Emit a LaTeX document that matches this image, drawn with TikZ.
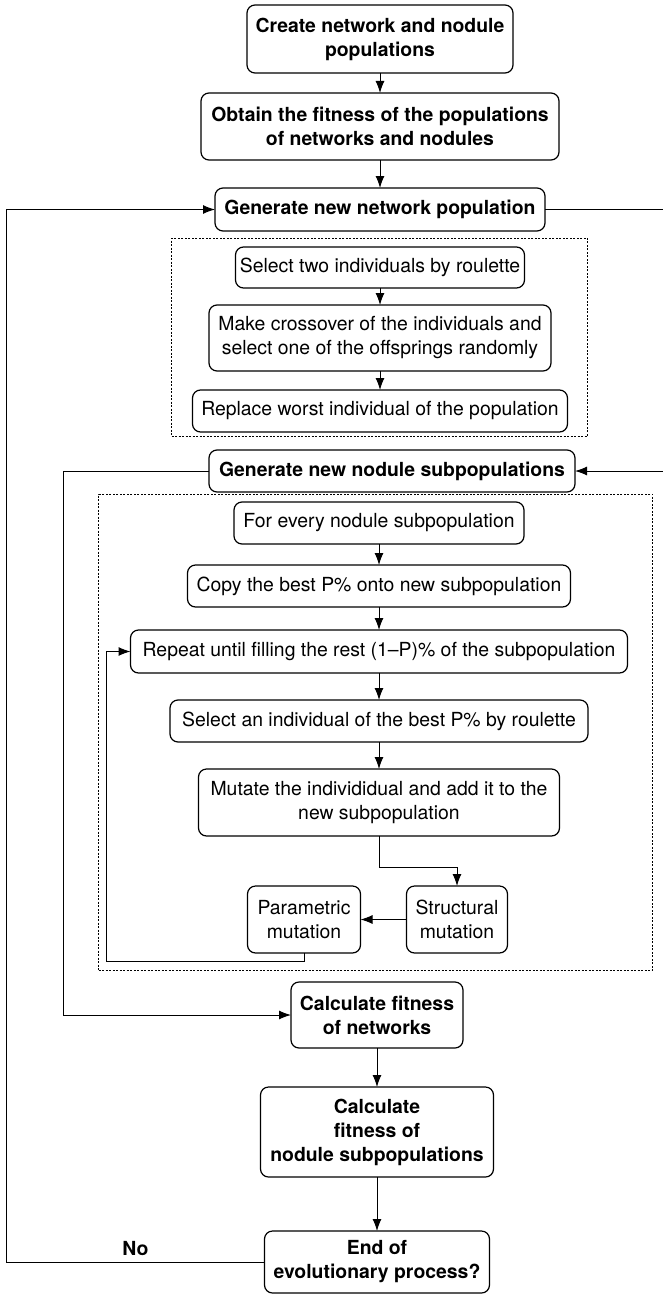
\documentclass[tikz,border=0pt]{standalone}
\usepackage{fontspec}
\setmainfont{TeX Gyre Heros}
\usepackage{tikz}
\usetikzlibrary{arrows.meta, positioning, fit, calc}

\begin{document}
\begin{tikzpicture}[
    node distance=20pt,
    mainblock/.style={rectangle, draw, rounded corners=8pt, line width=1.2pt, align=center, inner sep=2pt, outer sep=0pt, font=\fontsize{19.4pt}{24pt}\selectfont\bfseries},
    stepblock/.style={rectangle, draw, rounded corners=8pt, line width=1.2pt, align=center, inner sep=2pt, outer sep=0pt, font=\fontsize{19.4pt}{24pt}\selectfont},
    groupbox/.style={rectangle, draw, line width=0.7pt, dash pattern=on 2pt off 1.5pt, inner sep=0pt},
    nolabel/.style={inner sep=1pt, font=\fontsize{19.4pt}{24pt}\selectfont\bfseries},
    arrow/.style={-{Latex[length=12pt, width=9pt]}, line width=1pt},
]
\useasboundingbox (0,0) rectangle (662pt,-1295pt);

% network population
\node[mainblock, minimum width=266pt, minimum height=68pt] (create) at (380pt,-39pt) {Create network and nodule\\populations};
\node[mainblock, minimum width=358pt, minimum height=67pt, below=20pt of create] (obtain) {Obtain the fitness of the populations\\of networks and nodules};
\node[mainblock, minimum width=330pt, minimum height=43pt, below=28pt of obtain] (gennet) {Generate new network population};
\node[stepblock, minimum width=289pt, minimum height=41pt, below=16pt of gennet] (selecttwo) {Select two individuals by roulette};
\node[stepblock, minimum width=342pt, minimum height=66pt, below=17pt of selecttwo] (crossover) {Make crossover of the individuals and\\select one of the offsprings randomly};
\node[stepblock, minimum width=375pt, minimum height=42pt, below=19pt of crossover] (replace) {Replace worst individual of the population};
\node[groupbox, fit={($(replace.west |- selecttwo.north)+(-21pt,9pt)$) ($(replace.south east)+(20pt,-4pt)$)}] (netgroup) {};

% nodule subpopulations
\node[mainblock, minimum width=366pt, minimum height=42pt, below=18pt of replace, xshift=12pt] (gennod) {Generate new nodule subpopulations};
\node[stepblock, minimum width=290pt, minimum height=42pt, below=10pt of gennod, xshift=-13pt] (forevery) {For every nodule subpopulation};
\node[stepblock, minimum width=383pt, minimum height=42pt, below=21pt of forevery] (copybest) {Copy the best P\% onto new subpopulation};
\node[stepblock, minimum width=497pt, minimum height=43pt, below=23pt of copybest] (repeatfill) {Repeat until filling the rest (1--P)\% of the subpopulation};
\node[stepblock, minimum width=418pt, minimum height=42pt, below=27pt of repeatfill] (selectone) {Select an individual of the best P\% by roulette};
\node[stepblock, minimum width=361pt, minimum height=67pt, below=27pt of selectone] (mutate) {Mutate the individidual and add it to the\\new subpopulation};
\node[stepblock, minimum width=101pt, minimum height=67pt, below=50pt of mutate, xshift=78pt] (structural) {Structural\\mutation};
\node[stepblock, minimum width=113pt, minimum height=67pt, below=50pt of mutate, xshift=-75pt] (parametric) {Parametric\\mutation};
\node[groupbox, fit={($(repeatfill.west |- forevery.north)+(-32pt,8pt)$) ($(repeatfill.east |- parametric.south)+(25pt,-17pt)$)}] (nodgroup) {};

% fitness and end test
\node[mainblock, minimum width=172pt, minimum height=66pt, below=146pt of mutate, xshift=-2pt] (calcnet) {Calculate fitness\\of networks};
\node[mainblock, minimum width=233pt, minimum height=90pt, below=39pt of calcnet] (calcnod) {Calculate\\fitness of\\nodule subpopulations};
\node[mainblock, minimum width=225pt, minimum height=62pt, below=54pt of calcnod] (endproc) {End of\\evolutionary process?};

\draw[arrow] (create) -- (obtain);
\draw[arrow] (obtain) -- (gennet);
\draw[arrow] (selecttwo) -- (crossover);
\draw[arrow] (crossover) -- (replace);
\draw[arrow] (forevery) -- (copybest);
\draw[arrow] (copybest) -- (repeatfill);
\draw[arrow] (repeatfill) -- (selectone);
\draw[arrow] (selectone) -- (mutate);
\draw[arrow] (mutate.south) -- ++(0,-31pt) -| (structural.north);
\draw[arrow] (structural.west) -- (parametric.east);
\draw[arrow] (parametric.south) -- ++(0,-8pt) -| ($(repeatfill.west)+(-24pt,0)$) -- (repeatfill.west);
\draw[arrow] (calcnet) -- (calcnod);
\draw[arrow] (calcnod) -- (endproc);

% loops
\draw[arrow] (gennet.east) -- ++(118pt,0) |- (gennod.east);
\draw[arrow] (gennod.west) -- ++(-146pt,0) |- (calcnet.west);
\draw[arrow] (endproc.west) -- node[nolabel, above=5pt] (nolab) {No} ++(-258pt,0) |- (gennet.west);
\end{tikzpicture}
\end{document}
